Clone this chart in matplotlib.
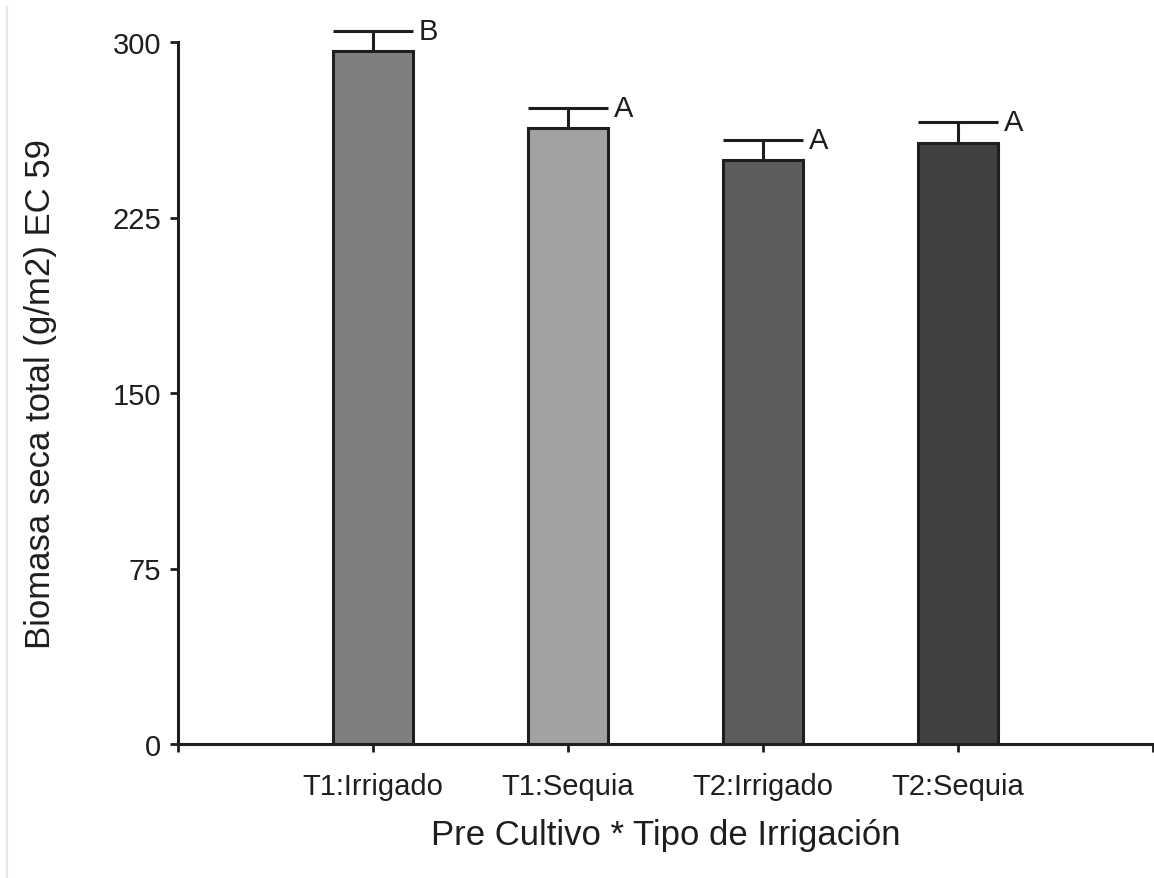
import matplotlib.pyplot as plt
from matplotlib.lines import Line2D

plt.rcParams['font.family'] = ['Liberation Sans', 'DejaVu Sans']

categories = ['T1:Irrigado', 'T1:Sequia', 'T2:Irrigado', 'T2:Sequia']
means = [296.2, 263.2, 249.6, 256.8]
errors = [8.6, 8.6, 8.5, 9.0]
letters = ['B', 'A', 'A', 'A']
bar_colors = ['#7f7f7f', '#a2a2a2', '#5d5d5d', '#404040']
yticks = [0, 75, 150, 225, 300]

ink = '#1e1e1e'
fig = plt.figure(figsize=(11.54, 8.79), dpi=100)
ax = fig.add_axes([178 / 1154, 1 - 745 / 879, 975 / 1154, 702 / 879])

pos = list(range(1, len(categories) + 1))
width = 0.41
ax.bar(pos, means, width=width, color=bar_colors, edgecolor=ink, linewidth=2.2, zorder=3)

# upper-only error bars with a cap as wide as the bar
tops = [m + e for m, e in zip(means, errors)]
ax.vlines(pos, means, tops, color=ink, linewidth=2.2, zorder=2, clip_on=False)
ax.hlines(tops, [p - width / 2 for p in pos], [p + width / 2 for p in pos],
          color=ink, linewidth=2.2, zorder=2, clip_on=False)
for p, t, lab in zip(pos, tops, letters):
    ax.annotate(lab, (p + width / 2, t), xytext=(4, 0), textcoords='offset points',
                ha='left', va='center', fontsize=21, color=ink, annotation_clip=False)

ax.set_xlim(0, 5)
ax.set_ylim(0, 300)
ax.set_xticks(range(0, 6))
ax.set_xticklabels([''] + categories + [''])
ax.set_yticks(yticks)
ax.tick_params(axis='both', direction='out', length=6, width=2, color=ink,
               labelsize=21, labelcolor=ink)
ax.tick_params(axis='x', pad=14)
ax.tick_params(axis='y', pad=6)

for s in ['top', 'right']:
    ax.spines[s].set_visible(False)
for s in ['left', 'bottom']:
    ax.spines[s].set_linewidth(2.2)
    ax.spines[s].set_color(ink)

ax.set_xlabel('Pre Cultivo * Tipo de Irrigación', fontsize=25, color=ink, labelpad=13)
ax.set_ylabel('Biomasa seca total (g/m2) EC 59', fontsize=25, color=ink, labelpad=40)

# faint frame line on the left edge of the picture
fig.add_artist(Line2D([7 / 1154, 7 / 1154], [0, 1 - 8 / 879], color='#e3e7ef', linewidth=1.5))

fig.savefig('out.png', dpi=100)
